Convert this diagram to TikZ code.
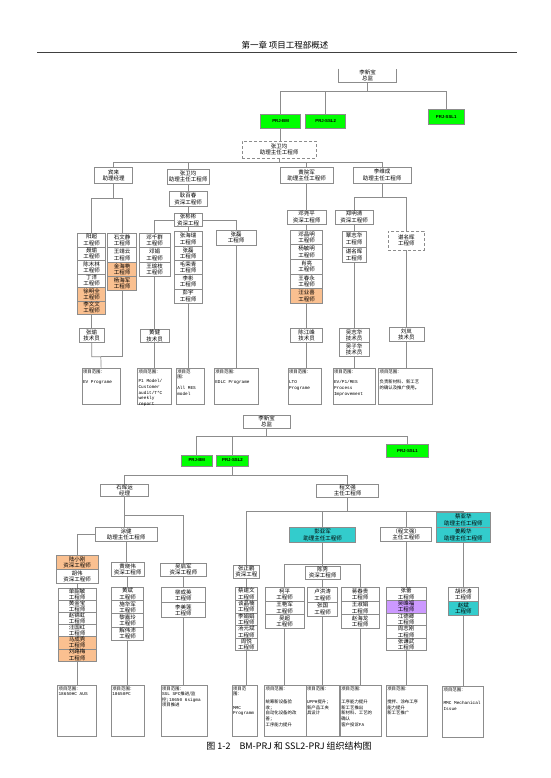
\documentclass[tikz,border=0pt]{standalone}
\usepackage{fontspec}
\setmainfont{Noto Sans CJK SC}
\newfontfamily\mono{Liberation Mono}
\newfontfamily\arialb{Liberation Sans}
\usetikzlibrary{calc}
\definecolor{lgray}{HTML}{8C8C8C}
\definecolor{prjgreen}{HTML}{00FF00}
\definecolor{peach}{HTML}{FAC090}
\definecolor{aqua}{HTML}{33CCCC}
\definecolor{lilac}{HTML}{CC99FF}
\newcommand{\cellfont}{\fontsize{5.5}{6.3}\selectfont}
\newcommand{\rangefont}{\fontsize{4.4}{5.6}\selectfont}
\newcommand{\prjfont}{\arialb\bfseries\fontsize{4.3}{5}\selectfont}
\newcommand{\scopetext}[3]{\parbox[t][#2pt][t]{#1pt}{\rangefont\raggedright #3}}

\begin{document}
\begin{tikzpicture}[x=1pt, y=-1pt,
  box/.style={draw=lgray, line width=0.6pt, fill=white, inner sep=0pt, align=center, font=\cellfont},
  dashbox/.style={box, densely dashed},
  prj/.style={draw=lgray, line width=0.6pt, fill=prjgreen, inner sep=0pt, font=\prjfont},
  rangebox/.style={draw=lgray, line width=0.6pt, fill=white, anchor=north west, inner sep=1pt},
  link/.style={draw=lgray, line width=0.7pt}]

% Background
\fill[white] (0,0) rectangle (550,778);
\useasboundingbox (0,0) rectangle (550,778);

% Page header
\node[font=\fontsize{8.5}{10}\selectfont] (head) at (285,45) {第一章\ 项目工程部概述};
\draw[black!75, line width=0.9pt] (37,52) -- (517,52);

% ================================================================
% UPPER CHART
% ================================================================
\node[box, draw=none, minimum width=57, minimum height=13] (zj) at (367.5,75.5) {李新宝\\总监};
\draw[link] (zj.north west) |- (zj.south east) -- (zj.north east);

\node[prj, minimum width=40, minimum height=14] (bm) at (280.6,121.2) {PRJ-BM};
\node[prj, minimum width=40, minimum height=14] (ssl2) at (325.7,121.2) {PRJ-SSL2};
\node[prj, minimum width=36.5, minimum height=15] (ssl1) at (446.2,116.7) {PRJ-SSL1};
\foreach \t in {bm,ssl2,ssl1}
  \draw[link] (zj.south) -- ++(0,8.7) -| (\t.north);

\node[dashbox, minimum width=74, minimum height=17] (zwj) at (279,149.6) {张卫均\\助理主任工程师};
\draw[link] (bm.south) -- (bm.south |- zwj.north);

% Second level
\node[box, minimum width=38.4, minimum height=16] (bl) at (113.5,175.3) {宾来\\助理经理};
\node[box, minimum width=42.3, minimum height=14.7] (zw) at (188,176.7) {张卫均\\助理主任工程师};
\node[box, minimum width=53.3, minimum height=16] (hy) at (306.5,175.3) {黄院军\\助理主任工程师};
\node[box, minimum width=57.7, minimum height=16] (lw) at (382.2,175) {李维成\\助理主任工程师};
\foreach \t in {bl,zw,hy,lw}
  \draw[link] (zwj.south) -- ++(0,4) -| (\t.north);

% Zhang Weijun branch
\node[box, minimum width=38.4, minimum height=14.3] (gb) at (188,198.8) {耿百春\\资深工程师};
\node[box, minimum width=28.3, minimum height=13.4] (zb) at (188,220) {张彬彬\\资深工程};
\draw[link] (zw.south) -- (gb.north);
\draw[link] (gb.south) -- (zb.north);

\foreach \n/\c [count=\i] in {阳超/white,聂瑜/white,陈木林/white,丁洋/white,徐明全/peach,李文文/peach}
  \node[box, fill=\c, minimum width=28, minimum height=13.5] (ya\i) at (91.7,{226.55+13.5*\i}) {\n\\工程师};
\foreach \n/\c [count=\i] in {石文静/white,王靖云/white,金海艳/peach,杨海军/peach}
  \node[box, fill=\c, minimum width=29, minimum height=14.35] (sw\i) at (122.2,{226.125+14.35*\i}) {\n\\工程师};
\foreach \n [count=\i] in {邓千群,邓娟,王瑜枝}
  \node[box, minimum width=30.7, minimum height=14.45] (dq\i) at (154.7,{226.075+14.45*\i}) {\n\\工程师};
\foreach \n [count=\i] in {张海瑞,张磊,毛荣青,李彬,彭宇}
  \node[box, minimum width=28.3, minimum height=14.3] (zh\i) at (188,{224.55+14.3*\i}) {\n\\工程师};
\node[box, minimum width=40, minimum height=15] (zl) at (236,237.5) {张磊\\工程师};

\draw[link] (bl.south) -- ++(0,14.4) -| (ya1.north);
\draw[link] (bl.south) -- ++(0,14.4) -| (sw1.north);
\draw[link] (zb.west) -| (dq1.north);
\draw[link] (zb.east) -| (zl.north);
\draw[link] (zb.south) -- (zh1.north);

% Technicians
\node[box, minimum width=25.7, minimum height=14.4] (zy) at (91.7,335.5) {张瑜\\技术员};
\node[box, minimum width=29, minimum height=13.4] (hj) at (154.7,336) {黄健\\技术员};
\draw[link] (ya6.south) -- (zy.north);
\draw[link] (dq3.south) -- (hj.north);

% Huang Yuanjun branch
\node[box, minimum width=39, minimum height=14] (dy) at (306.5,217) {邓尧平\\资深工程师};
\draw[link] (hy.south) -- (dy.north);
\foreach \n/\c [count=\i] in {邓昌明/white,杨敏明/white,肖亮/white,王春永/white,汪业喜/peach}
  \node[box, fill=\c, minimum width=32.4, minimum height=14.66] (dc\i) at (306.5,{222.67+14.66*\i}) {\n\\工程师};
\draw[link] (dy.south) -- (dc1.north);
\node[box, minimum width=31.7, minimum height=14.4] (cj) at (306.5,335.5) {陈江峰\\技术员};
\draw[link] (dc5.south) -- (cj.north);

% Li Weicheng branch
\node[box, minimum width=37.6, minimum height=14] (zm) at (354,217) {郑明清\\资深工程师};
\node[dashbox, minimum width=36, minimum height=19] (cm) at (406.3,240.5) {谌名晖\\工程师};
\draw[link] (lw.south) -- ++(0,13.7) -| (zm.north);
\draw[link] (lw.south) -- ++(0,13.7) -| (cm.north);
\foreach \n [count=\i] in {覃志华,谌名晖}
  \node[box, minimum width=24.3, minimum height=15.85] (tz\i) at (354,{223.075+15.85*\i}) {\n\\工程师};
\draw[link] (zm.south) -- (tz1.north);
\foreach \n [count=\i] in {吴志华,吴子华}
  \node[box, minimum width=30, minimum height=13.85] (wz\i) at (354,{321.375+13.85*\i}) {\n\\技术员};
\draw[link] (tz2.south) -- (wz1.north);
\node[box, minimum width=35, minimum height=14] (ll) at (406.3,334.7) {刘岚\\技术员};
\draw[link] (cm.south) -- (ll.north);

% Project scope boxes
\node[rangebox] (p1) at (81.7,368.3) {\scopetext{36.3}{34}{项目范围：\\[5pt]{\mono EV Programe}}};
\node[rangebox] (p2) at (137.3,368.3) {\scopetext{31.4}{34}{项目范围：\\[4pt]{\mono P1 Model/\\Customer\\audit/T*C\\weekly\\report}}};
\node[rangebox] (p3) at (176,368.3) {\scopetext{26}{34}{项目范\\围：\\[5pt]{\mono All MES\\model}}};
\node[rangebox] (p4) at (214,368.3) {\scopetext{42.3}{34}{项目范围：\\[5pt]{\mono EDLC Programe}}};
\node[rangebox] (p5) at (287.7,368.3) {\scopetext{31}{34}{项目范围：\\[5pt]{\mono LTO\\Programe}}};
\node[rangebox] (p6) at (332.7,368.3) {\scopetext{40.3}{34}{项目范围：\\[5pt]{\mono EV/P1/MES\\Process\\Improvement}}};
\node[rangebox] (p7) at (378.3,368.3) {\scopetext{51.4}{34}{项目范围：\\[5pt]负责新材料、新工艺\\的确认及推广使用。}};

\coordinate (j1) at (100.8,356.7);
\draw[link] (zy.south) |- (j1) -- (p1.north);
\draw[link] (sw4.south) |- (j1);
\draw[link] (hj.south) -- (hj.south |- p2.north);
\draw[link] (zh5.south) -- (zh5.south |- p3.north);
\draw[link] (zl.south) -- (zl.south |- p4.north);
\draw[link] (cj.south) -- (cj.south |- p5.north);
\draw[link] (wz2.south) -- (wz2.south |- p6.north);
\draw[link] (ll.south) -- (ll.south |- p7.north);

% ================================================================
% LOWER CHART
% ================================================================
\node[box, minimum width=46.7, minimum height=13.3] (zj2) at (266.7,421.7) {李新宝\\总监};
\node[prj, minimum width=31.7, minimum height=11] (bm2) at (196.8,460.5) {PRJ-BM};
\node[prj, minimum width=31.6, minimum height=11] (ssl2b) at (232.5,460.5) {PRJ-SSL2};
\node[prj, minimum width=41.6, minimum height=13] (ssl1b) at (407.5,450.8) {PRJ-SSL1};
\foreach \t in {bm2,ssl2b,ssl1b}
  \draw[link] (zj2.south) -- ++(0,7.7) -| (\t.north);

\node[box, minimum width=47.6, minimum height=12.7] (sh) at (124.5,490.3) {石晖运\\经理};
\node[box, minimum width=61.6, minimum height=13.3] (cw) at (347.5,490.6) {程文强\\主任工程师};
\foreach \t in {sh,cw}
  \draw[link] (ssl2b.south) -- ++(0,9) -| (\t.north);

% Shi Huiyun branch
\node[box, minimum width=62, minimum height=13.7] (tj) at (126,534.2) {涂健\\助理主任工程师};
\node[box, minimum width=45.3, minimum height=12.7] (wq) at (183.3,569.7) {吴启军\\资深工程师};
\draw[link] (sh.south) -- (sh.south |- tj.north);
\draw[link] (sh.south) -- ++(0,18.6) -| (wq.north);

\node[box, fill=peach, minimum width=42.3, minimum height=14.3] (lx) at (77.2,562.2) {陆小刚\\资深工程师};
\node[box, minimum width=42.3, minimum height=14] (hw) at (77.2,576.3) {胡伟\\资深工程师};
\node[box, minimum width=33.3, minimum height=14] (hx) at (127.5,569.7) {黄晓伟\\资深工程师};
\draw[link] (tj.west) -| (lx.north);
\draw[link] (tj.south) -- (tj.south |- hx.north);

\foreach \n/\c [count=\i] in {单韶敏/white,黄金宝/white,赵锦虹/white,汪国红/white,马成秀/peach,刘路梅/peach}
  \node[box, fill=\c, minimum width=37.7, minimum height=12.1] (sm\i) at (77.2,{582.25+12.1*\i}) {\n\\工程师};
\foreach \n [count=\i] in {黄斌,施华军,黎嘉玲,解伟沛}
  \node[box, minimum width=32, minimum height=13.2] (hb\i) at (127.5,{580.7+13.2*\i}) {\n\\工程师};
\foreach \n [count=\i] in {柳成英,李美莲}
  \node[box, minimum width=44.3, minimum height=15] (ly\i) at (183.3,{580.2+15*\i}) {\n\\工程师};
\draw[link] (hw.south) -- (sm1.north);
\draw[link] (hx.south) -- (hb1.north);
\draw[link] (wq.south) -- (ly1.north);

% Cheng Wenqiang branch
\node[box, minimum width=26, minimum height=13.3] (zp) at (246.3,571.7) {张正鹏\\资深工程};
\node[box, fill=aqua, minimum width=66.4, minimum height=15.4] (py) at (322.5,535) {彭亚军\\助理主任工程师};
\node[box, minimum width=51, minimum height=14.4] (cq) at (406.2,534.5) {（程文强）\\主任工程师};
\node[box, fill=aqua, minimum width=53.3, minimum height=14.6] (cy) at (463.3,520) {蔡亚华\\助理主任工程师};
\node[box, fill=aqua, minimum width=53.3, minimum height=15.4] (jd) at (463.3,535) {姜殿华\\助理主任工程师};
\foreach \t in {zp,py,cq,cy}
  \draw[link] (cw.south) -- ++(0,13.7) -| (\t.north);

\node[box, minimum width=35, minimum height=13.3] (cx) at (322.5,572.7) {陈秀\\资深工程师};
\draw[link, line width=1.3pt] (py.south) -- (cx.north);

\foreach \n [count=\i] in {蔡建文,谈晶楠,李娟娟,汤元斌,周悦}
  \node[box, minimum width=22.3, minimum height=12.6] (zz\i) at (246.3,{581.4+12.6*\i}) {\n\\工程师};
\foreach \n [count=\i] in {柯平,王艳军,吴超}
  \node[box, minimum width=39.3, minimum height=13.53] (kp\i) at (284.7,{580.93+13.53*\i}) {\n\\工程师};
\foreach \n [count=\i] in {卢洪涛,张国}
  \node[box, minimum width=30, minimum height=14.15] (lh\i) at (322.5,{580.625+14.15*\i}) {\n\\工程师};
\foreach \n [count=\i] in {蒋春贵,王淑娟,赵海龙}
  \node[box, minimum width=38.3, minimum height=13.53] (jc\i) at (360.2,{580.93+13.53*\i}) {\n\\工程师};
\foreach \n/\c [count=\i] in {张蕾/white,吴峰福/lilac,江德卿/white,周志刚/white,张谦武/white}
  \node[box, fill=\c, minimum width=40, minimum height=12.6] (zg\i) at (406.2,{581.4+12.6*\i}) {\n\\工程师};
\foreach \n/\c [count=\i] in {胡环涛/white,赵斌/aqua}
  \node[box, fill=\c, minimum width=30, minimum height=14.2] (hh\i) at (463.3,{580.2+14.2*\i}) {\n\\工程师};

\draw[link] (zp.south) -- (zz1.north);
\draw[link] (kp1.north) -- ++(0,-22.7) -| (jc1.north);
\draw[link] (cx.south) -- (lh1.north);
\draw[link] (cq.south) -- (zg1.north);
\draw[link] (jd.south) -- (hh1.north);

% Project scope boxes
\node[rangebox] (b1) at (57.3,685) {\scopetext{36.4}{48.7}{项目范围：\\{\mono 18650HC AUS}}};
\node[rangebox] (b2) at (111,685) {\scopetext{31.3}{48.7}{项目范围：\\{\mono 18650PC}}};
\node[rangebox] (b3) at (160.7,685) {\scopetext{44.6}{48.7}{项目范围：\\{\mono SSL SPC}推进/监\\控{\mono ;18650 6sigma}\\项目推进}};
\node[rangebox] (b4) at (231.7,685) {\scopetext{23}{48.7}{项目范\\围：\\[8pt]{\mono MMC\\Programm}}};
\node[rangebox] (b5) at (264.3,685) {\scopetext{39.4}{48.7}{项目范围：\\[8pt]统筹新设备验\\收；\\自动化设备的改\\善；\\工序能力提升}};
\node[rangebox] (b6) at (305.7,685) {\scopetext{31.3}{48.7}{项目范围：\\[8pt]{\mono UPPH}提升；\\新产品工夹\\具设计}};
\node[rangebox] (b7) at (340,685) {\scopetext{38.7}{48.7}{项目范围：\\[8pt]工序能力提升\\新工艺推出\\新材料、工艺的\\确认\\客户投诉{\mono FA}}};
\node[rangebox] (b8) at (386,685) {\scopetext{39.3}{48.7}{项目范围：\\[8pt]搅拌、涂布工序\\能力提升\\新工艺推广}};
\node[rangebox] (b9) at (442.3,686) {\scopetext{39}{48.7}{项目范围：\\[8pt]{\mono MMC Mechanical\\Issue}}};

\draw[link] (sm6.south) -- (sm6.south |- b1.north);
\draw[link] (hb4.south) -- (hb4.south |- b2.north);
\draw[link] (ly2.south) -- (ly2.south |- b3.north);
\draw[link] (zz5.south) -- (zz5.south |- b4.north);
\draw[link] (kp3.south) -- (kp3.south |- b5.north);
\draw[link] (lh2.south) -- (lh2.south |- b6.north);
\draw[link] (jc3.south) -- (jc3.south |- b7.north);
\draw[link] (zg5.south) -- (zg5.south |- b8.north);
\draw[link] (hh2.south) -- (hh2.south |- b9.north);

% Caption
\node[font=\fontsize{9}{10}\selectfont] (cap) at (289,746) {图 1-2\quad BM-PRJ 和 SSL2-PRJ 组织结构图};

\end{tikzpicture}
\end{document}
